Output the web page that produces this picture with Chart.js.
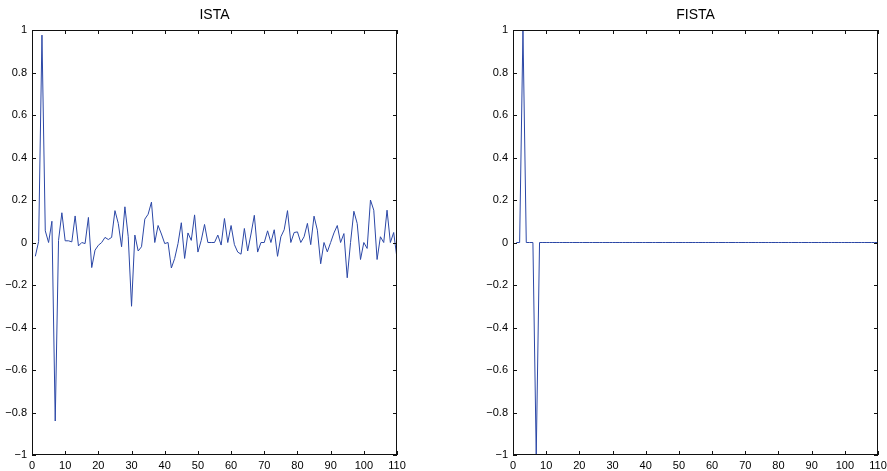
<!DOCTYPE html>
<html>
<head>
<meta charset="utf-8">
<script src="https://cdn.jsdelivr.net/npm/chart.js@4/dist/chart.umd.min.js"></script>
<style>
  html, body { margin: 0; padding: 0; background: #fff; }
  body { width: 887px; height: 471px; position: relative; overflow: hidden; }
  .box { position: absolute; top: 0; height: 471px; }
  #b1 { left: 0; width: 420px; }
  #b2 { left: 481px; width: 406px; }
</style>
</head>
<body>
<div class="box" id="b1"><canvas id="c1"></canvas></div>
<div class="box" id="b2"><canvas id="c2"></canvas></div>
<script>
// ---- data ----
const titles = ['ISTA', 'FISTA'];
const xTickValues = [0, 10, 20, 30, 40, 50, 60, 70, 80, 90, 100, 110];
const yTickValues = [-1, -0.8, -0.6, -0.4, -0.2, 0, 0.2, 0.4, 0.6, 0.8, 1];

const istaValues = [
  -0.065, 0.005, 0.976, 0.055, 0.0, 0.10, -0.84, 0.01, 0.14, 0.008,
  0.008, 0.003, 0.125, -0.016, 0.0, -0.005, 0.118, -0.118, -0.036, -0.013,
  0.0, 0.024, 0.014, 0.024, 0.15, 0.09, -0.02, 0.168, 0.027, -0.30,
  0.035, -0.04, -0.02, 0.11, 0.133, 0.19, 0.0, 0.08, 0.04, -0.005,
  0.0, -0.12, -0.075, -0.005, 0.093, -0.075, 0.045, 0.01, 0.13, -0.045,
  0.01, 0.085, 0.0, 0.0, 0.0, 0.035, -0.012, 0.113, 0.0, 0.08,
  -0.01, -0.045, -0.055, 0.066, -0.04, 0.04, 0.128, -0.045, 0.0, 0.0,
  0.055, 0.0, 0.06, -0.065, 0.027, 0.06, 0.15, 0.0, 0.047, 0.05,
  0.0, 0.027, 0.09, -0.01, 0.124, 0.058, -0.1, 0.0, -0.044, 0.0,
  0.045, 0.08, 0.0, 0.042, -0.166, 0.0, 0.147, 0.09, -0.08, 0.0,
  -0.028, 0.2, 0.152, -0.08, 0.027, 0.0, 0.152, 0.0, 0.047, -0.075
];

const fistaValues = [
  0, 0, 1, 0, 0, 0, -1, 0, 0, 0,
  0, 0, 0, 0, 0, 0, 0, 0, 0, 0,
  0, 0, 0, 0, 0, 0, 0, 0, 0, 0,
  0, 0, 0, 0, 0, 0, 0, 0, 0, 0,
  0, 0, 0, 0, 0, 0, 0, 0, 0, 0,
  0, 0, 0, 0, 0, 0, 0, 0, 0, 0,
  0, 0, 0, 0, 0, 0, 0, 0, 0, 0,
  0, 0, 0, 0, 0, 0, 0, 0, 0, 0,
  0, 0, 0, 0, 0, 0, 0, 0, 0, 0,
  0, 0, 0, 0, 0, 0, 0, 0, 0, 0,
  0, 0, 0, 0, 0, 0, 0, 0, 0, 0
];

// ---- drawing ----
const FONT = '"Liberation Sans", Arial, Helvetica, sans-serif';
const LINE_COLOR = '#2b47a6';
const TICK_LEN = 4;

const boxTicks = {
  id: 'boxTicks',
  afterDatasetsDraw(chart) {
    const { ctx, chartArea: a, scales: { x, y } } = chart;
    ctx.save();
    ctx.strokeStyle = '#111';
    ctx.lineWidth = 1;
    ctx.beginPath();
    x.ticks.forEach(t => {
      const px = Math.round(x.getPixelForValue(t.value)) + 0.5;
      ctx.moveTo(px, a.bottom); ctx.lineTo(px, a.bottom - TICK_LEN);
      ctx.moveTo(px, a.top); ctx.lineTo(px, a.top + TICK_LEN);
    });
    y.ticks.forEach(t => {
      const py = Math.round(y.getPixelForValue(t.value)) + 0.5;
      ctx.moveTo(a.left, py); ctx.lineTo(a.left + TICK_LEN, py);
      ctx.moveTo(a.right, py); ctx.lineTo(a.right - TICK_LEN, py);
    });
    ctx.stroke();
    ctx.strokeRect(a.left + 0.5, a.top + 0.5, a.right - a.left - 1, a.bottom - a.top - 1);
    ctx.restore();
  }
};

function fmtY(v) {
  const r = Math.round(v * 10) / 10;
  if (r === 0) return '0';
  const s = String(Math.abs(r));
  return (r < 0 ? '\u2212' : '') + s;
}

function makeChart(id, title, values, padRight) {
  const pts = values.map((v, i) => ({ x: i + 1, y: v }));
  return new Chart(document.getElementById(id), {
    type: 'line',
    data: {
      datasets: [{
        data: pts,
        borderColor: LINE_COLOR,
        borderWidth: 1,
        pointRadius: 0,
        pointHoverRadius: 0,
        tension: 0,
        fill: false
      }]
    },
    options: {
      responsive: true,
      maintainAspectRatio: false,
      animation: false,
      events: [],
      layout: { padding: { left: 0, right: padRight, top: 0, bottom: 0 } },
      plugins: {
        legend: { display: false },
        tooltip: { enabled: false },
        title: {
          display: true,
          text: title,
          fullSize: false,
          color: '#000',
          font: { family: FONT, size: 14, weight: 'normal', lineHeight: 1.2 },
          padding: { top: 7, bottom: 6.2 }
        }
      },
      scales: {
        x: {
          type: 'linear',
          min: 0,
          max: 110,
          afterBuildTicks: s => { s.ticks = xTickValues.map(v => ({ value: v })); },
          afterFit: s => { s.height = 16; s.paddingLeft = 0; s.paddingRight = 0; },
          grid: { display: false, drawTicks: false },
          border: { display: false },
          ticks: {
            color: '#000',
            padding: 4,
            maxRotation: 0,
            autoSkip: false,
            font: { family: FONT, size: 11 },
            callback: v => String(v)
          }
        },
        y: {
          type: 'linear',
          min: -1,
          max: 1,
          afterBuildTicks: s => { s.ticks = yTickValues.map(v => ({ value: v })); },
          afterFit: s => { s.width = 32; s.paddingTop = 0; s.paddingBottom = 0; },
          grid: { display: false, drawTicks: false },
          border: { display: false },
          ticks: {
            color: '#000',
            padding: 5,
            autoSkip: false,
            font: { family: FONT, size: 11 },
            callback: v => fmtY(v)
          }
        }
      }
    },
    plugins: [boxTicks]
  });
}

makeChart('c1', titles[0], istaValues, 23);
makeChart('c2', titles[1], fistaValues, 9);
</script>
</body>
</html>
